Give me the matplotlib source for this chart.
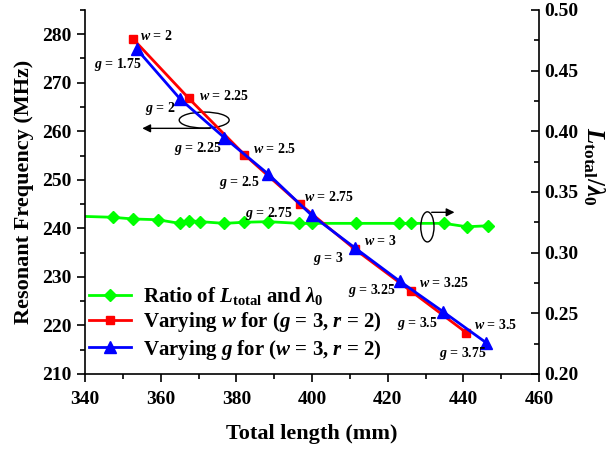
import matplotlib
matplotlib.use('Agg')
import matplotlib.pyplot as plt
from matplotlib.patches import Ellipse
from matplotlib.ticker import MultipleLocator, FormatStrFormatter

plt.rcParams['font.family'] = 'Liberation Serif'
plt.rcParams['font.weight'] = 'bold'
plt.rcParams['axes.labelweight'] = 'bold'
plt.rcParams['mathtext.fontset'] = 'custom'
plt.rcParams['mathtext.rm'] = 'Liberation Serif:bold'
plt.rcParams['mathtext.it'] = 'Liberation Serif:italic:bold'
plt.rcParams['mathtext.bf'] = 'Liberation Serif:bold'

# varying w (g = 3, r = 2)
w_vals = ['2', '2.25', '2.5', '2.75', '3', '3.25', '3.5']
w_len = [352.6, 367.4, 382.1, 396.8, 411.3, 426.1, 440.8]
w_freq = [279.1, 266.8, 255.2, 245.0, 235.7, 227.1, 218.5]

# varying g (w = 3, r = 2)
g_vals = ['1.75', '2', '2.25', '2.5', '2.75', '3', '3.25', '3.5', '3.75']
g_len = [353.7, 365.2, 376.8, 388.4, 399.9, 411.3, 423.2, 434.7, 446.1]
g_freq = [276.9, 266.6, 258.7, 251.2, 242.7, 236.0, 229.1, 222.8, 216.4]

# ratio L_total / lambda_0
r_len = [338.0, 347.3, 352.8, 359.2, 365.0, 367.4, 370.5, 376.8, 382.1, 388.4,
         396.5, 400.1, 411.5, 423.0, 426.1, 434.9, 440.9, 446.4]
r_ratio = [0.3300, 0.3291, 0.3277, 0.3271, 0.3241, 0.3263, 0.3255, 0.3241, 0.3250,
           0.3255, 0.3241, 0.3241, 0.3241, 0.3241, 0.3241, 0.3241, 0.3213, 0.3221]

# label offsets in pixels
w_off = [(7, 3), (10, 2), (9, 6), (4, 7), (9, 8), (8, 8), (8, 8)]
g_off = [(5, -15), (-5, -9), (-2, -11), (-8, -9), (-19, 2), (-11, -11), (-4, -9), (-5, -12), (0, -11)]

fig = plt.figure(figsize=(6.16, 4.5), dpi=100)
ax = fig.add_axes([0.138, 0.169, 0.737, 0.809])
ax2 = ax.twinx()
ax.set_zorder(ax2.get_zorder() + 1)
ax.patch.set_visible(False)

lr, = ax2.plot(r_len, r_ratio, color='#00FF00', lw=2, marker='D', ms=6, clip_on=True)
lw_, = ax.plot(w_len, w_freq, color='#FF0000', lw=2, marker='s', ms=6)
lg, = ax.plot(g_len, g_freq, color='#0000FF', lw=2, marker='^', ms=8)

for v, x, y, off in zip(w_vals, w_len, w_freq, w_off):
    ax.annotate(r'$w$ = ' + v, (x, y), xytext=off, textcoords='offset pixels',
                ha='left', va='center', fontsize=10, fontweight='bold')
for v, x, y, off in zip(g_vals, g_len, g_freq, g_off):
    ax.annotate(r'$g$ = ' + v, (x, y), xytext=off, textcoords='offset pixels',
                ha='right', va='center', fontsize=10, fontweight='bold')

# ellipse markers pointing at each axis
ax.add_patch(Ellipse((371.5, 262.3), 13.2, 3.3, fill=False, lw=1, ec='black'))
ax.annotate('', xy=(354.4, 260.6), xytext=(373.8, 260.6),
            arrowprops=dict(arrowstyle='-|>', color='black', lw=1, mutation_scale=12))
ax.add_patch(Ellipse((430.5, 240.3), 3.5, 6.2, fill=False, lw=1, ec='black'))
ax.annotate('', xy=(438.4, 243.3), xytext=(430.9, 243.3),
            arrowprops=dict(arrowstyle='-|>', color='black', lw=1, mutation_scale=12))

ax.set_xlim(340, 460)
ax.set_ylim(210, 285)
ax2.set_ylim(0.20, 0.50)
ax.xaxis.set_major_locator(MultipleLocator(20))
ax.xaxis.set_minor_locator(MultipleLocator(10))
ax.yaxis.set_major_locator(MultipleLocator(10))
ax.yaxis.set_minor_locator(MultipleLocator(5))
ax2.yaxis.set_major_locator(MultipleLocator(0.05))
ax2.yaxis.set_minor_locator(MultipleLocator(0.025))
ax2.yaxis.set_major_formatter(FormatStrFormatter('%.2f'))

for a in (ax, ax2):
    a.spines['top'].set_visible(False)
    for s in a.spines.values():
        s.set_linewidth(1.2)
ax.spines['right'].set_visible(False)
ax2.spines['left'].set_visible(False)
ax2.spines['bottom'].set_visible(False)

ax.tick_params(axis='both', which='major', direction='out', length=6, width=1.2, labelsize=14)
ax.tick_params(axis='x', which='major', pad=6)
ax.tick_params(axis='both', which='minor', direction='out', length=3.5, width=1.2)
ax2.tick_params(axis='y', which='major', direction='in', length=6, width=1.2, labelsize=14, pad=4)
ax2.tick_params(axis='y', which='minor', direction='in', length=3.5, width=1.2)
for t in ax.get_xticklabels() + ax.get_yticklabels() + ax2.get_yticklabels():
    t.set_fontweight('bold')

ax.set_xlabel('Total length (mm)', fontsize=16, labelpad=12)
ax.set_ylabel('Resonant Frequency (MHz)', fontsize=16, labelpad=6)
ax2.set_ylabel(r'$L_{\rm total}/\lambda_0$', fontsize=18, rotation=270, va='center', ha='center')
ax2.yaxis.set_label_coords(1.12, 0.57)

ax.legend([lr, lw_, lg],
          [r'Ratio of $L_{\rm total}$ and $\lambda_0$',
           r'Varying $w$ for ($g$ = 3, $r$ = 2)',
           r'Varying $g$ for ($w$ = 3, $r$ = 2)'],
          loc='upper left', bbox_to_anchor=(0.0, 0.255), frameon=False, fontsize=15,
          handlelength=2.0, handletextpad=0.6, labelspacing=0.15, borderaxespad=0, borderpad=0.2)

fig.savefig('out.png', dpi=100)
